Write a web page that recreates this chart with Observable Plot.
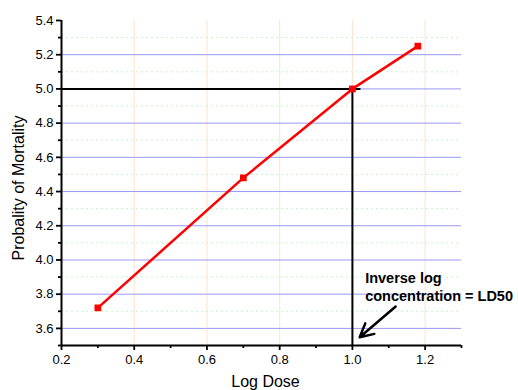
<!DOCTYPE html>
<html>
<head>
<meta charset="utf-8">
<script src="https://cdn.jsdelivr.net/npm/d3@7"></script>
<script src="https://cdn.jsdelivr.net/npm/@observablehq/plot@0.6"></script>
<style>
  html, body { margin: 0; padding: 0; background: #fff; }
</style>
</head>
<body>
<div id="chart"></div>
<script>
// Data
const logDose = [0.3, 0.7, 1.0, 1.18];
const probit = [3.72, 4.48, 5.0, 5.25];

const xMajorTicks = [0.2, 0.4, 0.6, 0.8, 1.0, 1.2];
const xMinorTicks = [0.3, 0.5, 0.7, 0.9, 1.1, 1.3];
const yMajorTicks = [3.6, 3.8, 4.0, 4.2, 4.4, 4.6, 4.8, 5.0, 5.2, 5.4];
const yMinorTicks = [3.5, 3.7, 3.9, 4.1, 4.3, 4.5, 4.7, 4.9, 5.1, 5.3];
const xGrid = [0.4, 0.6, 0.8, 1.0, 1.2];
const yGrid = [3.6, 3.8, 4.0, 4.2, 4.4, 4.6, 4.8, 5.0, 5.2];
const yMinorGrid = [3.7, 3.9, 4.1, 4.3, 4.5, 4.7, 4.9, 5.1, 5.3];

// LD50 guide lines
const hGuideX = [0.2, 1.02];
const hGuideY = [5.0, 5.0];
const vGuideX = [1.0, 1.0];
const vGuideY = [5.0, 3.5];

// Annotation
const annoX = [1.035, 1.035];
const annoY = [3.868, 3.763];
const annoText = ["Inverse log", "concentration = LD50"];
const arrowFrom = [1.119, 3.728];
const arrowTo = [1.02, 3.548];

const points = logDose.map((x, i) => ({x, y: probit[i]}));
const hGuide = hGuideX.map((x, i) => ({x, y: hGuideY[i]}));
const vGuide = vGuideX.map((x, i) => ({x, y: vGuideY[i]}));
const anno = annoText.map((t, i) => ({x: annoX[i], y: annoY[i], t}));
const arrows = [{x1: arrowFrom[0], y1: arrowFrom[1], x2: arrowTo[0], y2: arrowTo[1]}];

const fmt = d3.format(".1f");

const chart = Plot.plot({
  width: 518,
  height: 390,
  marginLeft: 61,
  marginRight: 57,
  marginTop: 20,
  marginBottom: 45,
  style: {fontFamily: "'Liberation Sans', Arial, sans-serif", fontSize: "13px", color: "#000", background: "#fff"},
  x: {domain: [0.2, 1.3], axis: null},
  y: {domain: [3.5, 5.4], axis: null},
  marks: [
    Plot.ruleX(xGrid, {stroke: "#ffe2cc", strokeWidth: 1}),
    Plot.ruleY(yMinorGrid, {stroke: "#c8f5c8", strokeWidth: 1, strokeDasharray: "2,3"}),
    Plot.ruleY(yGrid, {stroke: "#9999f5", strokeWidth: 1}),
    Plot.line(hGuide, {x: "x", y: "y", stroke: "#000", strokeWidth: 2}),
    Plot.line(vGuide, {x: "x", y: "y", stroke: "#000", strokeWidth: 2}),
    Plot.line(points, {x: "x", y: "y", stroke: "#ff0000", strokeWidth: 2.5}),
    Plot.dot(points, {x: "x", y: "y", symbol: "square", r: 3.8, fill: "#ff0000", stroke: "none"}),
    Plot.axisY(yMajorTicks, {tickSize: 5, tickPadding: 3, tickFormat: fmt, strokeWidth: 1.8, fontSize: 13, label: null}),
    Plot.axisY(yMinorTicks, {tickSize: 3, tickFormat: () => "", strokeWidth: 1.8, label: null}),
    Plot.axisX(xMajorTicks, {tickSize: 5, tickPadding: 4, tickFormat: fmt, strokeWidth: 1.8, fontSize: 13, label: null}),
    Plot.axisX(xMinorTicks, {tickSize: 3, tickFormat: () => "", strokeWidth: 1.8, label: null}),
    Plot.ruleX([0.2], {stroke: "#000", strokeWidth: 2}),
    Plot.ruleY([3.5], {stroke: "#000", strokeWidth: 2}),
    Plot.text(anno, {x: "x", y: "y", text: "t", textAnchor: "start", lineAnchor: "bottom", fontWeight: "bold", fontSize: 14.5, fill: "#000"}),
    Plot.arrow(arrows, {x1: "x1", y1: "y1", x2: "x2", y2: "y2", stroke: "#000", strokeWidth: 2.5, headLength: 9, headAngle: 55}),
    Plot.text(["Probality of Mortality"], {frameAnchor: "left", dx: -38, dy: 5, rotate: -90, textAnchor: "middle", lineAnchor: "bottom", fontSize: 16, fill: "#000"}),
    Plot.text(["Log Dose"], {frameAnchor: "bottom", dx: 4, dy: 41, textAnchor: "middle", lineAnchor: "bottom", fontSize: 16, fill: "#000"})
  ]
});

document.getElementById("chart").appendChild(chart);
</script>
</body>
</html>
